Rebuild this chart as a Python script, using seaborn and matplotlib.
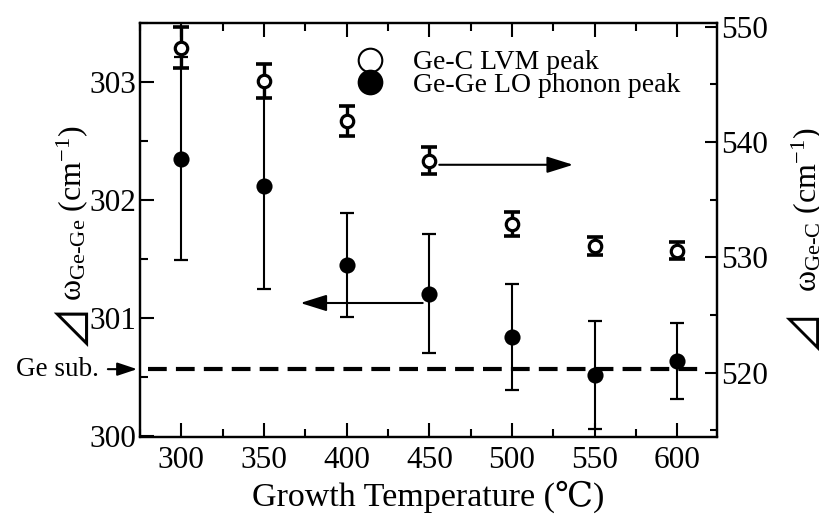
import numpy as np
import pandas as pd
import matplotlib
matplotlib.use("Agg")
import matplotlib.pyplot as plt
import seaborn as sns
from matplotlib.lines import Line2D
from matplotlib.ticker import MultipleLocator

# ---------------- data ----------------
temps = [300, 350, 400, 450, 500, 550, 600]
gec_peak = [548.2, 545.3, 541.8, 538.4, 532.9, 531.0, 530.6]     # right axis
gec_err = [1.8, 1.5, 1.3, 1.2, 1.0, 0.8, 0.75]
gege_peak = [302.35, 302.12, 301.45, 301.21, 300.84, 300.52, 300.64]  # left axis
gege_err = [0.86, 0.87, 0.44, 0.50, 0.45, 0.455, 0.32]
ge_sub = 300.57
legend_labels = ["Ge-C LVM peak", "Ge-Ge LO phonon peak"]
x_ticks = [300, 350, 400, 450, 500, 550, 600]
left_ticks = [300, 301, 302, 303]
right_ticks = [520, 530, 540, 550]

df_c = pd.DataFrame({"T": temps, "w": gec_peak, "e": gec_err})
df_g = pd.DataFrame({"T": temps, "w": gege_peak, "e": gege_err})

sns.set_theme(style="ticks")
plt.rcParams["font.family"] = ["Liberation Serif", "DejaVu Serif", "DejaVu Sans", "Noto Sans CJK JP"]
plt.rcParams["mathtext.fontset"] = "custom"
plt.rcParams["mathtext.rm"] = "Liberation Serif"
plt.rcParams["mathtext.it"] = "Liberation Serif:italic"
plt.rcParams["mathtext.bf"] = "Liberation Serif:bold"
plt.rcParams["mathtext.fallback"] = "stix"
for k in ["text.color", "axes.labelcolor", "xtick.color", "ytick.color", "axes.edgecolor"]:
    plt.rcParams[k] = "black"

fig = plt.figure(figsize=(8.2, 5.24), dpi=100)
ax = fig.add_axes([140 / 820, 1 - 436.5 / 524, 577 / 820, 413.5 / 524])
ax2 = ax.twinx()

# Ge substrate dashed line
ax.plot([280, 616], [ge_sub, ge_sub], color="black", lw=3.0, ls=(0, (4.5, 2.2)), zorder=1)

# Ge-Ge LO phonon (filled, left axis)
ax.errorbar(df_g["T"], df_g["w"], yerr=df_g["e"], fmt="none", ecolor="black",
            elinewidth=1.5, capsize=4.7, capthick=1.6, zorder=2)
sns.scatterplot(data=df_g, x="T", y="w", ax=ax, color="black", edgecolor="black",
                s=135, linewidth=0, zorder=3, legend=False)

# Ge-C LVM (open, right axis)
ax2.errorbar(df_c["T"], df_c["w"], yerr=df_c["e"], fmt="none", ecolor="black",
             elinewidth=2.4, capsize=5.5, capthick=2.6, zorder=2)
sns.scatterplot(data=df_c, x="T", y="w", ax=ax2, color="white", edgecolor="black",
                s=80, linewidth=2.3, zorder=3, legend=False)

# limits & ticks
ax.set_xlim(275, 624)
ax.set_ylim(300, 303.5)
ax2.set_ylim(514.47, 550.33)
ax.set_xticks(x_ticks)
ax.xaxis.set_minor_locator(MultipleLocator(25))
ax.set_yticks(left_ticks)
ax.yaxis.set_minor_locator(MultipleLocator(0.5))
ax2.set_yticks(right_ticks)
ax2.yaxis.set_minor_locator(MultipleLocator(5))
ax.set_xlabel("")
ax.set_ylabel("")
ax2.set_ylabel("")

for a in (ax, ax2):
    for sp in a.spines.values():
        sp.set_linewidth(1.6)
        sp.set_color("black")
ax.tick_params(axis="both", which="major", direction="in", length=10, width=1.5,
               labelsize=22.5, colors="black", top=True, right=False)
ax.tick_params(axis="both", which="minor", direction="in", length=5.5, width=1.5,
               top=True, right=False)
ax.tick_params(axis="y", which="major", pad=3)
ax.tick_params(axis="x", which="major", pad=7)
ax2.tick_params(axis="y", which="major", direction="in", length=9, width=1.5,
                labelsize=22.5, colors="black", pad=3)
ax2.tick_params(axis="y", which="minor", direction="in", length=5, width=1.5)

# axis labels
ax.text(0.5, -0.146, "Growth Temperature (℃)", transform=ax.transAxes,
        ha="center", va="center", fontsize=24.5)
ax.text(-0.117, 0.54, r"$\mathrm{ω}_{\mathrm{Ge‐Ge}}$ (cm$^{-1}$)", transform=ax.transAxes,
        rotation=90, ha="center", va="center", fontsize=23)
ax.text(-0.117, 0.272, "⊿", transform=ax.transAxes, rotation=90, ha="center", va="center",
        fontsize=32, family=["Noto Sans CJK JP", "DejaVu Sans"])
ax.text(1.157, 0.548, r"$\mathrm{ω}_{\mathrm{Ge‐C}}$ (cm$^{-1}$)", transform=ax.transAxes,
        rotation=90, ha="center", va="center", fontsize=23)
ax.text(1.152, 0.262, "⊿", transform=ax.transAxes, rotation=90, ha="center", va="center",
        fontsize=31, family=["Noto Sans CJK JP", "DejaVu Sans"])

# Ge sub. marker
ax.annotate("Ge sub.", xy=(-0.005, ge_sub), xycoords=("axes fraction", "data"),
            xytext=(-0.071, ge_sub), textcoords=("axes fraction", "data"),
            ha="right", va="center", fontsize=19.5, annotation_clip=False,
            arrowprops=dict(arrowstyle="-|>,head_length=0.6,head_width=0.2",
                            mutation_scale=20, lw=1.5, color="black",
                            shrinkA=4, shrinkB=0))

# direction arrows
ax.annotate("", xy=(537, 302.30), xytext=(456, 302.30),
            arrowprops=dict(arrowstyle="-|>,head_length=0.8,head_width=0.25",
                            mutation_scale=20, lw=1.5, color="black", shrinkA=0, shrinkB=0))
ax.annotate("", xy=(372, 301.13), xytext=(446, 301.13),
            arrowprops=dict(arrowstyle="-|>,head_length=0.8,head_width=0.25",
                            mutation_scale=20, lw=1.5, color="black", shrinkA=0, shrinkB=0))

# legend
handles = [Line2D([], [], ls="none", marker="o", ms=17, mfc="white", mec="black", mew=1.5),
           Line2D([], [], ls="none", marker="o", ms=17, mfc="black", mec="black", mew=1.5)]
leg = ax2.legend(handles, legend_labels, loc="upper left", bbox_to_anchor=(355 / 820, 1 - 50 / 524),
                 bbox_transform=fig.transFigure, frameon=False, fontsize=20, borderpad=0,
                 handlelength=1.1, handletextpad=1.0, labelspacing=-0.1, borderaxespad=0)

fig.savefig("out.png", dpi=100)
